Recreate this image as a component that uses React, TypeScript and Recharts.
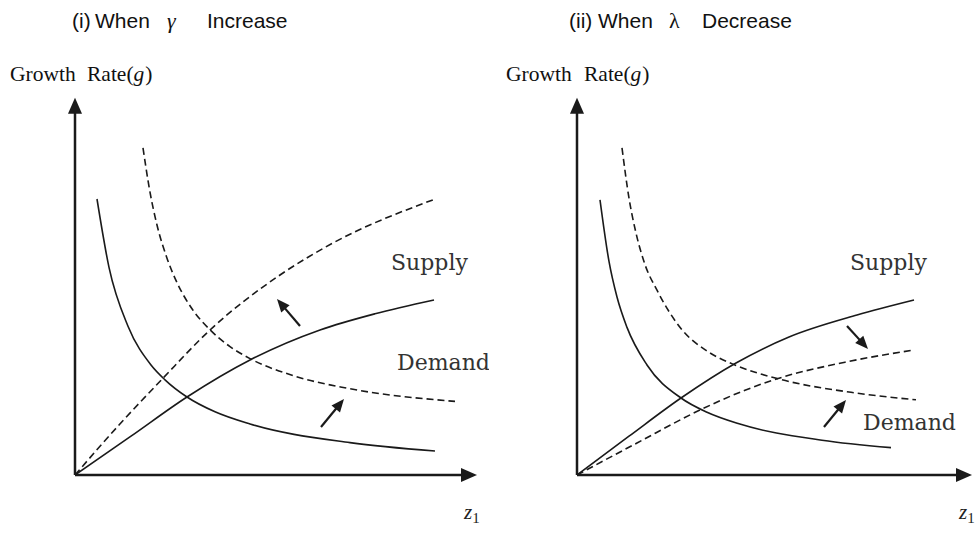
import React from "react";
import { LineChart, Line, XAxis, YAxis, ReferenceLine } from "recharts";

type Pt = { x: number; y: number };

// Panel (i): When gamma increases
const p1DemandSolid: Pt[] = [
  { x: 0.55, y: 6.9 }, { x: 0.85, y: 5.19 }, { x: 1.325, y: 3.72 }, { x: 1.9, y: 2.75 },
  { x: 2.25, y: 2.38 }, { x: 2.8, y: 1.95 }, { x: 3.5, y: 1.58 }, { x: 4.375, y: 1.275 },
  { x: 6.875, y: 0.81 }, { x: 9.0, y: 0.6 },
];
const p1SupplySolid: Pt[] = [
  { x: 0, y: 0 }, { x: 1.4, y: 0.97 }, { x: 2.8, y: 1.95 }, { x: 4.375, y: 2.875 },
  { x: 6.125, y: 3.625 }, { x: 7.5, y: 4.03 }, { x: 8.975, y: 4.375 },
];
const p1DemandDashed: Pt[] = [
  { x: 1.7, y: 8.18 }, { x: 1.875, y: 7.07 }, { x: 2.05, y: 6.25 }, { x: 2.3, y: 5.42 },
  { x: 2.55, y: 4.81 }, { x: 2.95, y: 4.12 }, { x: 3.375, y: 3.63 }, { x: 3.875, y: 3.21 },
  { x: 4.375, y: 2.91 }, { x: 5.5, y: 2.47 }, { x: 6.8, y: 2.17 }, { x: 9.5, y: 1.84 },
];
const p1SupplyDashed: Pt[] = [
  { x: 0, y: 0 }, { x: 1.1, y: 1.25 }, { x: 2.2, y: 2.42 }, { x: 3.375, y: 3.625 },
  { x: 5.125, y: 5.0 }, { x: 6.45, y: 5.8 }, { x: 8.95, y: 6.88 },
];
const p1Arrows: [Pt, Pt][] = [
  [{ x: 5.625, y: 3.725 }, { x: 5.05, y: 4.4 }],
  [{ x: 6.15, y: 1.2 }, { x: 6.725, y: 1.9 }],
];

// Panel (ii): When lambda decreases
const p2DemandSolid: Pt[] = [
  { x: 0.575, y: 6.88 }, { x: 0.8, y: 5.34 }, { x: 1.0, y: 4.45 }, { x: 1.25, y: 3.69 },
  { x: 1.75, y: 2.75 }, { x: 2.6, y: 1.925 }, { x: 3.25, y: 1.57 }, { x: 4.05, y: 1.28 },
  { x: 6.125, y: 0.87 }, { x: 7.85, y: 0.685 },
];
const p2SupplySolid: Pt[] = [
  { x: 0, y: 0 }, { x: 1.3, y: 0.97 }, { x: 2.6, y: 1.925 }, { x: 3.975, y: 2.8 },
  { x: 5.3, y: 3.45 }, { x: 7.0, y: 4.0 }, { x: 8.425, y: 4.375 },
];
const p2DemandDashed: Pt[] = [
  { x: 1.125, y: 8.18 }, { x: 1.3, y: 6.92 }, { x: 1.475, y: 6.05 }, { x: 1.7, y: 5.26 },
  { x: 2.0, y: 4.62 }, { x: 2.625, y: 3.63 }, { x: 3.25, y: 3.1 }, { x: 3.975, y: 2.74 },
  { x: 5.05, y: 2.4 }, { x: 6.975, y: 2.05 }, { x: 8.475, y: 1.88 },
];
const p2SupplyDashed: Pt[] = [
  { x: 0, y: 0 }, { x: 1.5, y: 0.8 }, { x: 3.075, y: 1.625 }, { x: 4.2, y: 2.12 },
  { x: 5.05, y: 2.42 }, { x: 6.7, y: 2.82 }, { x: 8.425, y: 3.125 },
];
const p2Arrows: [Pt, Pt][] = [
  [{ x: 6.75, y: 3.725 }, { x: 7.275, y: 3.15 }],
  [{ x: 6.175, y: 1.2 }, { x: 6.725, y: 1.875 }],
];

const xDomain: [number, number] = [0, 10];
const yDomain: [number, number] = [0, 10];
const yAxisTop = 9.43;
const p1XAxisEnd = 10.05;
const p2XAxisEnd = 9.875;

const INK = "#1a1a1a";

const makeArrow = (len: number, half: number, width: number) => (props: any) => {
  const { x1, y1, x2, y2 } = props;
  if ([x1, y1, x2, y2].some((v) => v === undefined || isNaN(v))) return <g />;
  const dx = x2 - x1;
  const dy = y2 - y1;
  const d = Math.sqrt(dx * dx + dy * dy) || 1;
  const ux = dx / d;
  const uy = dy / d;
  const bx = x2 - ux * len;
  const by = y2 - uy * len;
  const px = -uy * half;
  const py = ux * half;
  return (
    <g>
      <line x1={x1} y1={y1} x2={bx + ux * 2} y2={by + uy * 2} stroke={INK} strokeWidth={width} />
      <polygon points={`${x2},${y2} ${bx + px},${by + py} ${bx - px},${by - py}`} fill={INK} />
    </g>
  );
};

const AxisArrow = makeArrow(16, 7, 2.5);
const SmallArrow = makeArrow(13, 5.5, 2.2);

const serif = "'Liberation Serif', 'Times New Roman', serif";
const labelSerif = "'DejaVu Serif', serif";
const sans = "'Liberation Sans', Arial, sans-serif";

type PanelProps = {
  titleParts: [string, number][];
  greek: string;
  greekX: number;
  greekItalic: boolean;
  growthX: [number, number];
  demandSolid: Pt[];
  supplySolid: Pt[];
  demandDashed: Pt[];
  supplyDashed: Pt[];
  arrows: [Pt, Pt][];
  xAxisEnd: number;
  left: number;
  right: number;
  supplyPos: [number, number];
  demandPos: [number, number];
  zPos: [number, number];
};

const Panel = (p: PanelProps) => (
  <LineChart
    width={489}
    height={533}
    margin={{ top: 75, right: p.right, bottom: 58, left: p.left }}
  >
    <XAxis type="number" dataKey="x" domain={xDomain} hide allowDataOverflow />
    <YAxis type="number" domain={yDomain} hide allowDataOverflow />
    <ReferenceLine
      segment={[{ x: 0, y: 0 }, { x: p.xAxisEnd, y: 0 }]}
      ifOverflow="visible"
      shape={AxisArrow}
    />
    <ReferenceLine
      segment={[{ x: 0, y: 0 }, { x: 0, y: yAxisTop }]}
      ifOverflow="visible"
      shape={AxisArrow}
    />
    <Line data={p.demandSolid} dataKey="y" type="monotone" dot={false} stroke={INK} strokeWidth={1.6} isAnimationActive={false} />
    <Line data={p.supplySolid} dataKey="y" type="monotone" dot={false} stroke={INK} strokeWidth={1.6} isAnimationActive={false} />
    <Line data={p.demandDashed} dataKey="y" type="monotone" dot={false} stroke={INK} strokeWidth={1.6} strokeDasharray="7 4" isAnimationActive={false} />
    <Line data={p.supplyDashed} dataKey="y" type="monotone" dot={false} stroke={INK} strokeWidth={1.6} strokeDasharray="7 4" isAnimationActive={false} />
    {p.arrows.map((a, i) => (
      <ReferenceLine key={i} segment={a} ifOverflow="visible" shape={SmallArrow} />
    ))}
    <text y={28} fontFamily={sans} fontSize={21} fill="#111">
      {p.titleParts.map(([s, x], i) => (
        <tspan key={i} x={x}>{s}</tspan>
      ))}
      <tspan x={p.greekX} fontFamily={serif} fontStyle={p.greekItalic ? "italic" : "normal"} fontSize={22}>
        {p.greek}
      </tspan>
    </text>
    <text y={81} fontFamily={serif} fontSize={21.5} fill="#111">
      <tspan x={p.growthX[0]}>Growth</tspan>
      <tspan x={p.growthX[1]}>Rate(</tspan>
      <tspan fontStyle="italic">g</tspan>
      <tspan dx={1}>)</tspan>
    </text>
    <text x={p.supplyPos[0]} y={p.supplyPos[1]} fontFamily={labelSerif} fontSize={22} fill="#333">
      Supply
    </text>
    <text x={p.demandPos[0]} y={p.demandPos[1]} fontFamily={labelSerif} fontSize={22} fill="#333">
      Demand
    </text>
    <text x={p.zPos[0]} y={p.zPos[1]} fontFamily={serif} fontSize={21} fill="#222">
      <tspan fontStyle="italic">z</tspan>
      <tspan fontSize={15} dy={4}>1</tspan>
    </text>
  </LineChart>
);

export default function App() {
  return (
    <div style={{ position: "absolute", left: 0, top: 0, width: 978, height: 533, display: "flex", background: "#fff" }}>
      <Panel
        titleParts={[["(i)", 72], ["When", 95], ["Increase", 207]]}
        greek="γ"
        greekX={167}
        greekItalic
        growthX={[10, 87]}
        demandSolid={p1DemandSolid}
        supplySolid={p1SupplySolid}
        demandDashed={p1DemandDashed}
        supplyDashed={p1SupplyDashed}
        arrows={p1Arrows}
        xAxisEnd={p1XAxisEnd}
        left={75}
        right={14}
        supplyPos={[391, 270]}
        demandPos={[397, 370]}
        zPos={[464, 519]}
      />
      <Panel
        titleParts={[["(ii)", 80], ["When", 109], ["Decrease", 213]]}
        greek="λ"
        greekX={180}
        greekItalic={false}
        growthX={[17, 95]}
        demandSolid={p2DemandSolid}
        supplySolid={p2SupplySolid}
        demandDashed={p2DemandDashed}
        supplyDashed={p2SupplyDashed}
        arrows={p2Arrows}
        xAxisEnd={p2XAxisEnd}
        left={88}
        right={1}
        supplyPos={[361, 270]}
        demandPos={[374, 430]}
        zPos={[470, 519]}
      />
    </div>
  );
}
